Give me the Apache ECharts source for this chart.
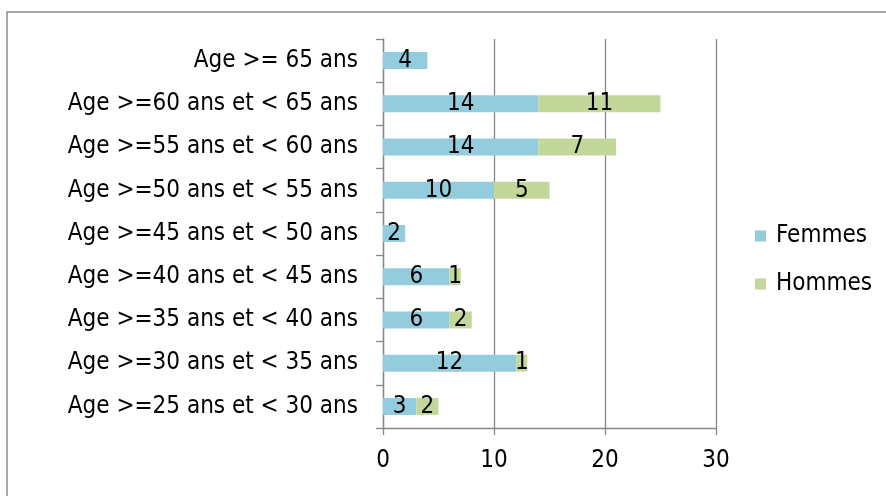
<!DOCTYPE html>
<html>
<head>
<meta charset="utf-8">
<script src="https://cdn.jsdelivr.net/npm/echarts@6/dist/echarts.min.js"></script>
<style>
  html, body { margin: 0; padding: 0; background: #fff; }
  #chart { width: 886px; height: 496px; }
</style>
</head>
<body>
<div id="chart"></div>
<script>
// Age groups, bottom to top
const categories = [
  'Age >=25 ans et < 30 ans',
  'Age >=30 ans et < 35 ans',
  'Age >=35 ans et < 40 ans',
  'Age >=40 ans et < 45 ans',
  'Age >=45 ans et < 50 ans',
  'Age >=50 ans et < 55 ans',
  'Age >=55 ans et < 60 ans',
  'Age >=60 ans et < 65 ans',
  'Age >= 65 ans'
];
const femmes = [3, 12, 6, 6, 2, 10, 14, 14, 4];
const hommes = [2, 1, 2, 1, 0, 5, 7, 11, 0];
const seriesNames = ['Femmes', 'Hommes'];
const xTicks = { min: 0, max: 30, interval: 10 };

const FONT = '"DejaVu Sans Condensed", "DejaVu Sans", sans-serif';
const FONT_SIZE = 24;
const GRID_COLOR = '#878787';

const chart = echarts.init(document.getElementById('chart'), null, { renderer: 'canvas' });

const barLabel = {
  show: true,
  position: 'inside',
  color: '#000',
  fontFamily: FONT,
  fontSize: FONT_SIZE,
  formatter: p => (p.value ? String(p.value) : '')
};

chart.setOption({
  animation: false,
  backgroundColor: '#fff',
  textStyle: { fontFamily: FONT },
  graphic: [{
    type: 'rect',
    shape: { x: 7, y: 12, width: 920, height: 520 },
    style: { fill: 'none', stroke: '#8a8a8a', lineWidth: 1.5 },
    silent: true
  }],
  grid: { left: 383, right: 170, top: 39, bottom: 68, containLabel: false },
  legend: {
    orient: 'vertical',
    left: 750,
    top: 219,
    itemWidth: 11,
    itemHeight: 11,
    itemGap: 24,
    icon: 'rect',
    textStyle: { fontFamily: FONT, fontSize: FONT_SIZE, color: '#000', padding: [0, 0, 0, 5] },
    data: seriesNames
  },
  xAxis: {
    type: 'value',
    min: xTicks.min,
    max: xTicks.max,
    interval: xTicks.interval,
    axisLine: { show: true, lineStyle: { color: GRID_COLOR, width: 1.3 } },
    axisTick: { show: true, length: 7, lineStyle: { color: GRID_COLOR, width: 1.3 } },
    splitLine: { show: true, lineStyle: { color: GRID_COLOR, width: 1.3 } },
    axisLabel: { color: '#000', fontFamily: FONT, fontSize: FONT_SIZE, margin: 21 }
  },
  yAxis: {
    type: 'category',
    data: categories,
    axisLine: { show: true, lineStyle: { color: GRID_COLOR, width: 1.3 } },
    axisTick: { show: true, length: 7, lineStyle: { color: GRID_COLOR, width: 1.3 } },
    axisLabel: { color: '#000', fontFamily: FONT, fontSize: FONT_SIZE, margin: 25 }
  },
  series: [
    {
      name: seriesNames[0],
      type: 'bar',
      stack: 'total',
      barWidth: 17,
      itemStyle: { color: '#93CDDD' },
      label: barLabel,
      data: femmes
    },
    {
      name: seriesNames[1],
      type: 'bar',
      stack: 'total',
      barWidth: 17,
      itemStyle: { color: '#C4D79B' },
      label: barLabel,
      data: hommes
    }
  ]
});
</script>
</body>
</html>
